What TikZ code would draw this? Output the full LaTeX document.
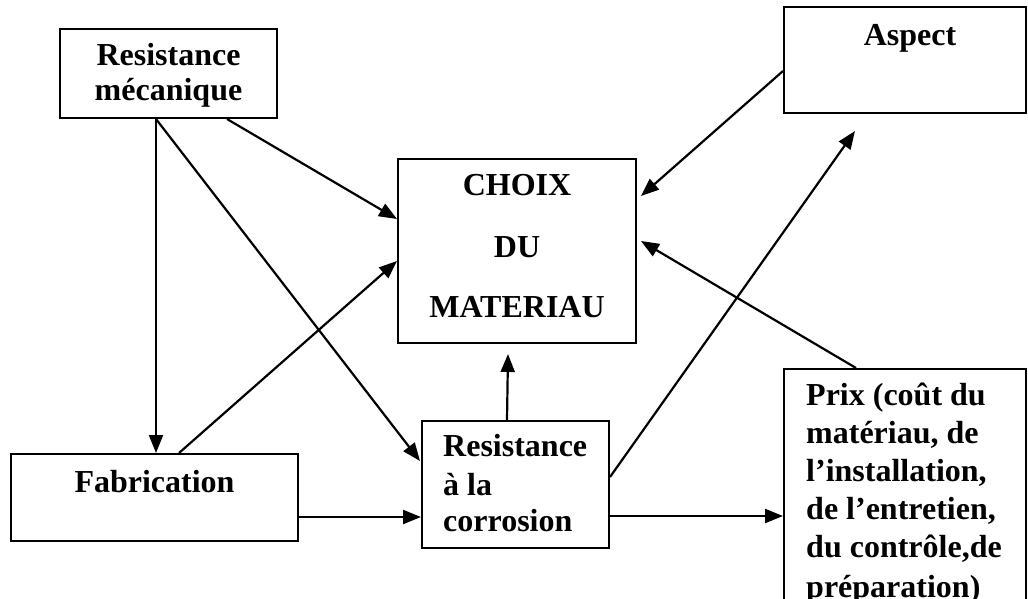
\documentclass[tikz,border=0pt]{standalone}
\usepackage{fontspec}
\setmainfont{Liberation Serif}
\usetikzlibrary{arrows.meta}
\begin{document}
\begin{tikzpicture}[x=1pt,y=-1pt,
  box/.style={draw=black,line width=2pt,inner sep=0pt,rectangle,fill=none},
  txt/.style={font=\bfseries\fontsize{32}{38}\selectfont,inner sep=0pt,anchor=base},
  ltxt/.style={txt,anchor=base west},
  arr/.style={line width=2.2pt,-{Triangle[length=18pt,width=14pt]}},
  ln/.style={line width=2.2pt}]
\useasboundingbox (0,0) rectangle (1028,598);
\clip (0,0) rectangle (1028,598);
\fill[white] (0,0) rectangle (1028,598);
% boxes
\node[box,minimum width=217pt,minimum height=89pt] (rm) at (168.5,73.5) {};
\node[box,minimum width=242pt,minimum height=106pt] (asp) at (905,60) {};
\node[box,minimum width=238pt,minimum height=184pt] (choix) at (517,251) {};
\node[box,minimum width=287pt,minimum height=87pt] (fab) at (154.5,497.5) {};
\node[box,minimum width=187pt,minimum height=127pt] (rc) at (515.5,484.5) {};
\node[box,minimum width=242pt,minimum height=271pt] (prix) at (905,504.5) {};
% texts
\node[txt] (rm1) at (168.5,65) {Resistance};
\node[txt] (rm2) at (168.5,100) {mécanique};
\node[txt] (asp1) at (910,45) {Aspect};
\node[txt] (ch1) at (517,195) {CHOIX};
\node[txt] (ch2) at (517,257) {DU};
\node[txt] (ch3) at (517,317) {MATERIAU};
\node[txt] (fab1) at (154.5,492) {Fabrication};
\node[ltxt] (rc1) at (443,456) {Resistance};
\node[ltxt] (rc2) at (443,495) {à la};
\node[ltxt] (rc3) at (443,531) {corrosion};
\node[ltxt] (px1) at (806,405) {Prix (coût du};
\node[ltxt] (px2) at (806,443) {matériau, de};
\node[ltxt] (px3) at (806,481) {l’installation,};
\node[ltxt] (px4) at (806,519) {de l’entretien,};
\node[ltxt] (px5) at (806,557) {du contrôle,de};
\node[ltxt] (px6) at (806,597) {préparation)};
% connectors
\draw[arr] ([xshift=168pt]rm.south west) -- ([yshift=-61pt]choix.north west);
\draw[arr] ([xshift=97pt]rm.south west) -- ([xshift=146pt]fab.north west);
\draw[arr] ([xshift=97pt]rm.south west) -- ([xshift=-1pt,yshift=-41pt]rc.north west);
\draw[arr] ([xshift=169pt]fab.north west) -- ([yshift=-103pt]choix.north west);
\draw[arr] ([yshift=-64pt]fab.north east) coordinate (f1) -- (f1 -| rc.west);
\draw[arr] ([xshift=86pt]rc.north west) -- ([xshift=-9pt,yshift=-10pt]choix.south);
\draw[arr] ([yshift=-57pt]rc.north east) -- ([xshift=72pt,yshift=-17pt]asp.south west);
\draw[arr] ([yshift=-96pt]rc.north east) coordinate (r1) -- (r1 -| prix.west);
\draw[arr] ([yshift=-65pt]asp.north west) -- ([xshift=4pt,yshift=-38pt]choix.north east);
\draw[arr] ([xshift=73pt]prix.north west) -- ([xshift=4pt,yshift=-83pt]choix.north east);
\end{tikzpicture}
\end{document}
